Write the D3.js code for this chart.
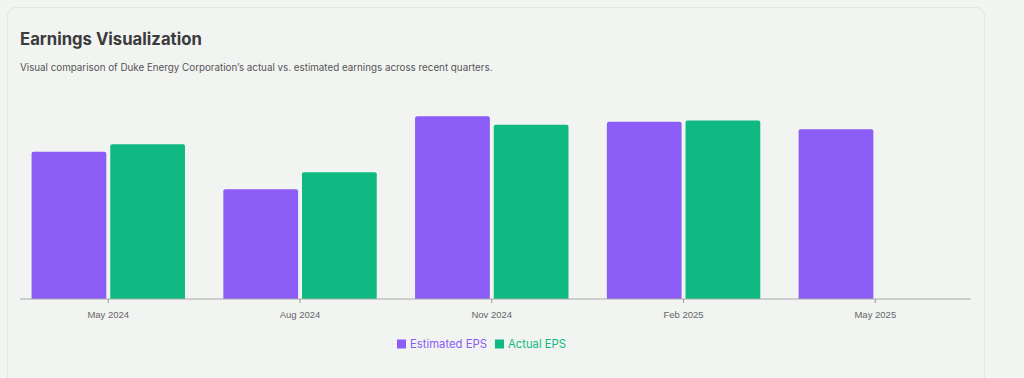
<!DOCTYPE html>
<html>
  <head>
    <title>Earnings Visualization</title>
    <style>
      body {
        margin: 0;
        background: #f3f5f3;
        font-family: Inter, "Noto Sans", sans-serif;
      }
      .tick text {
        font-size: 9.5px;
        fill: #666;
      }
      .title {
        font-size: 16.7px;
        font-weight: 700;
        fill: #3b3b3b;
      }
      .subtitle {
        font-size: 9.8px;
        fill: #555;
      }
      .legend-text {
        font-size: 11.3px;
      }
    </style>
  </head>
  <body>
    <div id="chart"></div>

    <script src="https://d3js.org/d3.v7.min.js"></script>
    <script>
      const quarters = ["May 2024", "Aug 2024", "Nov 2024", "Feb 2025", "May 2025"];
      const estimatedEps = [1.37, 1.02, 1.7, 1.65, 1.58];
      const actualEps = [1.44, 1.18, 1.62, 1.66, null];
      const seriesNames = ["Estimated EPS", "Actual EPS"];
      const colors = ["#8b5cf6", "#10b981"];

      const W = 1024, H = 378;
      const svg = d3
        .select("#chart")
        .append("svg")
        .attr("width", W)
        .attr("height", H);

      // card
      svg
        .append("rect")
        .attr("x", 7.5)
        .attr("y", 7.5)
        .attr("width", 977)
        .attr("height", 390)
        .attr("rx", 8)
        .attr("fill", "#f1f4f1")
        .attr("stroke", "#e2e7e3");

      svg.append("text").attr("class", "title").attr("x", 20).attr("y", 45).text("Earnings Visualization");
      svg
        .append("text")
        .attr("class", "subtitle")
        .attr("x", 20)
        .attr("y", 71)
        .text("Visual comparison of Duke Energy Corporation\u2019s actual vs. estimated earnings across recent quarters.");

      const baseY = 299;
      const x = d3.scaleBand().domain(quarters).range([12.4, 971.2]);
      const y = d3.scaleLinear().domain([0, 2]).range([baseY, 84]);
      const bw = x.bandwidth();
      const xs = d3
        .scaleBand()
        .domain(seriesNames)
        .range([bw * 0.1, bw * 0.9])
        .paddingInner(0.05);

      const data = quarters.map((q, i) => ({
        q,
        vals: [estimatedEps[i], actualEps[i]],
      }));

      const groups = svg
        .selectAll(".grp")
        .data(data)
        .enter()
        .append("g")
        .attr("transform", (d) => "translate(" + x(d.q) + ",0)");

      groups
        .selectAll("path")
        .data((d) => d.vals.map((v, j) => ({ v, j })).filter((e) => e.v != null))
        .enter()
        .append("path")
        .attr("fill", (e) => colors[e.j])
        .attr("d", (e) => {
          const x0 = xs(seriesNames[e.j]), w = xs.bandwidth();
          const y0 = y(e.v), r = 2;
          return (
            "M" + x0 + "," + baseY +
            "V" + (y0 + r) +
            "Q" + x0 + "," + y0 + " " + (x0 + r) + "," + y0 +
            "H" + (x0 + w - r) +
            "Q" + (x0 + w) + "," + y0 + " " + (x0 + w) + "," + (y0 + r) +
            "V" + baseY + "Z"
          );
        });

      const xAxis = svg
        .append("g")
        .attr("transform", "translate(0," + baseY + ")")
        .call(d3.axisBottom(x).tickSize(4).tickSizeOuter(0).tickPadding(8));
      xAxis.select(".domain").remove();
      xAxis.selectAll(".tick line").attr("stroke", "#999");
      xAxis
        .append("line")
        .attr("x1", 20)
        .attr("x2", 971)
        .attr("stroke", "#aaa")
        .attr("stroke-width", 1.2);

      // legend
      const legend = svg.append("g").attr("transform", "translate(397,344)");
      let lx = 0;
      seriesNames.forEach((name, i) => {
        legend
          .append("rect")
          .attr("x", lx)
          .attr("y", -4.5)
          .attr("width", 9)
          .attr("height", 9)
          .attr("fill", colors[i]);
        const t = legend
          .append("text")
          .attr("class", "legend-text")
          .attr("x", lx + 13)
          .attr("y", 4)
          .attr("fill", colors[i])
          .text(name);
        lx += 13 + t.node().getComputedTextLength() + 8;
      });
    </script>
  </body>
</html>
